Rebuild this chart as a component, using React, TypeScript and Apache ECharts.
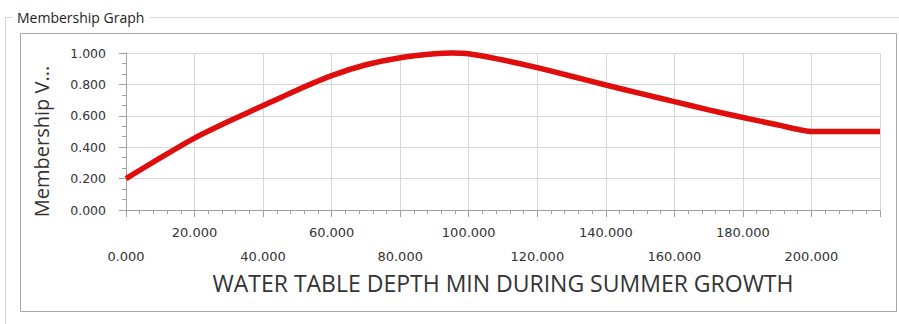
import React, { useEffect, useRef } from "react";
import * as echarts from "echarts";

const chartTitle = "Membership Graph";
const xAxisName = "WATER TABLE DEPTH MIN DURING SUMMER GROWTH";
const yAxisName = "Membership V...";
const xValues = [0, 10, 20, 30, 40, 50, 60, 70, 80, 90, 95, 100, 110, 120, 130, 140, 150, 160, 170, 180, 190, 200, 220];
const yValues = [0.2, 0.332, 0.458, 0.565, 0.665, 0.765, 0.856, 0.925, 0.97, 0.995, 1.0, 0.995, 0.955, 0.907, 0.852, 0.796, 0.743, 0.69, 0.638, 0.589, 0.543, 0.5, 0.5];

export default function App() {
  const ref = useRef<HTMLDivElement>(null);
  useEffect(() => {
    const chart = echarts.init(ref.current!, null, { renderer: "svg" });
    const data = xValues.map((x, i) => [x, yValues[i]]);
    chart.setOption({
      animation: false,
      backgroundColor: "#ffffff",
      graphic: [
        { type: "line", shape: { x1: 5, y1: 17.5, x2: 13, y2: 17.5 }, style: { stroke: "#d8d8d8", lineWidth: 1 } },
        { type: "line", shape: { x1: 150, y1: 17.5, x2: 899, y2: 17.5 }, style: { stroke: "#d8d8d8", lineWidth: 1 } },
        { type: "line", shape: { x1: 5.5, y1: 17, x2: 5.5, y2: 324 }, style: { stroke: "#d8d8d8", lineWidth: 1 } },
        {
          type: "text", x: 17, y: 17,
          style: { text: chartTitle, fontFamily: "Open Sans", fontSize: 14, fill: "#222", verticalAlign: "middle" },
        },
        {
          type: "rect", shape: { x: 20.5, y: 33.5, width: 876, height: 278 },
          style: { fill: "none", stroke: "#a8a8a8", lineWidth: 1 }, z: -1,
        },
      ],
      grid: { left: 126, right: 19, top: 53, bottom: 114, containLabel: false },
      xAxis: {
        type: "value", min: 0, max: 220, interval: 20,
        name: xAxisName, nameLocation: "middle", nameGap: 61,
        nameTextStyle: { fontFamily: "Open Sans", fontSize: 23, color: "#333" },
        axisLine: { show: true, lineStyle: { color: "#a0a0a0" } },
        axisTick: { show: true, length: 7, lineStyle: { color: "#a0a0a0" } },
        minorTick: { show: true, splitNumber: 5, length: 4, lineStyle: { color: "#a0a0a0" } },
        splitLine: { show: true, lineStyle: { color: "#d6d6d6" } },
        axisLabel: {
          showMaxLabel: false, margin: 10, lineHeight: 24,
          fontFamily: "DejaVu Sans", fontSize: 13, color: "#333",
          formatter: (v: number) => {
            const t = v.toFixed(3);
            return Math.round(v / 20) % 2 === 0 ? "\n" + t : t;
          },
        },
      },
      yAxis: {
        type: "value", min: 0, max: 1, interval: 0.2,
        name: yAxisName, nameLocation: "middle", nameGap: 75,
        nameTextStyle: { fontFamily: "Open Sans", fontSize: 20, color: "#333", padding: [0, 20, 0, 0] },
        axisLine: { show: true, lineStyle: { color: "#a0a0a0" } },
        axisTick: { show: true, length: 7, lineStyle: { color: "#a0a0a0" } },
        minorTick: { show: true, splitNumber: 3, length: 4, lineStyle: { color: "#a0a0a0" } },
        splitLine: { show: true, lineStyle: { color: "#d6d6d6" } },
        axisLabel: {
          margin: 20, fontFamily: "DejaVu Sans", fontSize: 12.5, color: "#333",
          formatter: (v: number) => v.toFixed(3),
        },
      },
      series: [
        {
          type: "line", data, smooth: 0.2, showSymbol: false, symbol: "none",
          lineStyle: { color: "#e00d0d", width: 5.5 }, clip: false,
        },
      ],
    });
    return () => chart.dispose();
  }, []);
  return <div ref={ref} style={{ position: "fixed", left: 0, top: 0, width: 899, height: 324 }} />;
}
